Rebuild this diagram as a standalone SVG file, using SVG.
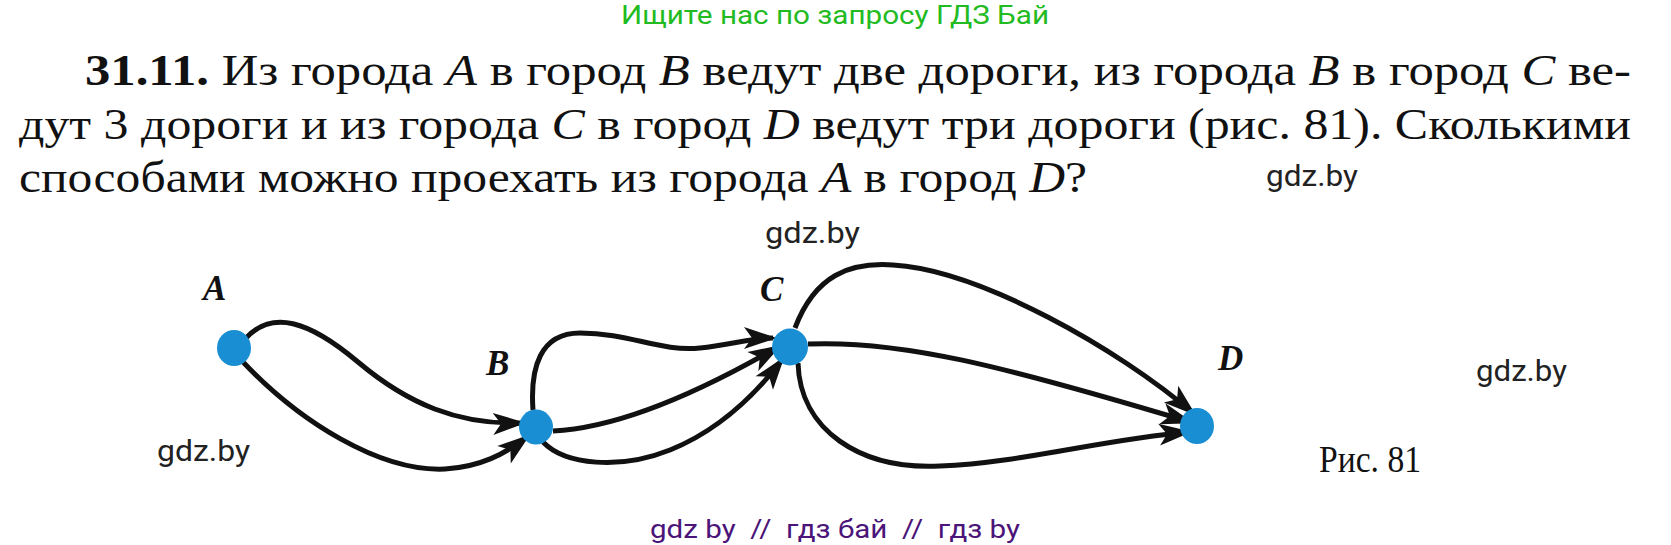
<svg xmlns="http://www.w3.org/2000/svg" width="1671" height="545" viewBox="0 0 1671 545">
<style>
.t{font-family:"Liberation Serif",serif;font-size:45px;fill:#111}
.i{font-style:italic}
.wm{font-family:Roboto,"Noto Sans",sans-serif;font-size:29px;fill:#222}
.lbl{font-family:"Liberation Serif",serif;font-size:35px;font-weight:bold;font-style:italic;fill:#111}
.e{fill:none;stroke:#111;stroke-width:5;stroke-linecap:butt;marker-end:url(#ah)}
.n{fill:#1a8ed2}
</style>
<defs>
<marker id="ah" markerUnits="userSpaceOnUse" markerWidth="36" markerHeight="24" refX="29" refY="11" orient="auto" overflow="visible">
<path d="M0,0 L33,11 L0,22 L8,11 Z" fill="#111"/>
</marker>
</defs>
<rect width="1671" height="545" fill="#fff"/>
<text x="621" y="24" font-family="Roboto,sans-serif" font-size="25" fill="#22bb22" textLength="428" lengthAdjust="spacingAndGlyphs">Ищите нас по запросу ГДЗ Бай</text>
<g id="problem">
<text class="t" x="85" y="85" textLength="1546" lengthAdjust="spacingAndGlyphs"><tspan font-weight="bold">31.11.</tspan> Из города <tspan class="i">A</tspan> в город <tspan class="i">B</tspan> ведут две дороги, из города <tspan class="i">B</tspan> в город <tspan class="i">C</tspan> ве-</text>
<text class="t" x="19" y="139" textLength="1612" lengthAdjust="spacingAndGlyphs">дут 3 дороги и из города <tspan class="i">C</tspan> в город <tspan class="i">D</tspan> ведут три дороги (рис. 81). Сколькими</text>
<text class="t" x="19" y="192" textLength="1068" lengthAdjust="spacingAndGlyphs">способами можно проехать из города <tspan class="i">A</tspan> в город <tspan class="i">D</tspan>?</text>
</g>
<g id="watermarks">
<text class="wm" x="1266" y="186" textLength="92" lengthAdjust="spacingAndGlyphs">gdz.by</text>
<text class="wm" x="765" y="243" textLength="95" lengthAdjust="spacingAndGlyphs">gdz.by</text>
<text class="wm" x="157" y="461" textLength="93" lengthAdjust="spacingAndGlyphs">gdz.by</text>
<text class="wm" x="1476" y="381" textLength="91" lengthAdjust="spacingAndGlyphs">gdz.by</text>
</g>
<g id="connectors">
<path class="e" d="M246,338 C272,310 308,320 358,362 C408,404 458,425 522,423"/>
<path class="e" d="M243,362 C300,422 380,472 445,469 C480,467 505,454 527,437"/>
<path class="e" d="M533,410 C530,368 540,333 580,333 C630,333 660,352 700,348 C730,345 750,338 773,338"/>
<path class="e" d="M553,431 C620,428 700,392 778,347"/>
<path class="e" d="M543,442 C565,465 620,470 670,450 C720,430 755,395 782,360"/>
<path class="e" d="M795,328 C815,275 850,262 893,265 C980,270 1120,350 1193,413"/>
<path class="e" d="M808,344 C900,340 1000,365 1190,422"/>
<path class="e" d="M798,363 C800,430 860,470 940,466 C1020,463 1100,440 1188,432"/>
</g>
<g id="node-A"><ellipse class="n" cx="234" cy="348" rx="17" ry="18"/><text class="lbl" x="203" y="300">A</text></g>
<g id="node-B"><ellipse class="n" cx="536" cy="427" rx="17" ry="17.5"/><text class="lbl" x="486" y="375">B</text></g>
<g id="node-C"><ellipse class="n" cx="790" cy="347" rx="18" ry="18.5"/><text class="lbl" x="760" y="301">C</text></g>
<g id="node-D"><ellipse class="n" cx="1197" cy="426" rx="17" ry="18"/><text class="lbl" x="1218" y="370">D</text></g>
<text x="1319" y="472" font-family="Liberation Serif,serif" font-size="38" fill="#111" textLength="102" lengthAdjust="spacingAndGlyphs">Рис. 81</text>
<text x="650" y="538" font-family="Roboto,sans-serif" font-size="26" fill="#4b1478" xml:space="preserve" textLength="370" lengthAdjust="spacingAndGlyphs">gdz by  //  гдз бай  //  гдз by</text>
</svg>
